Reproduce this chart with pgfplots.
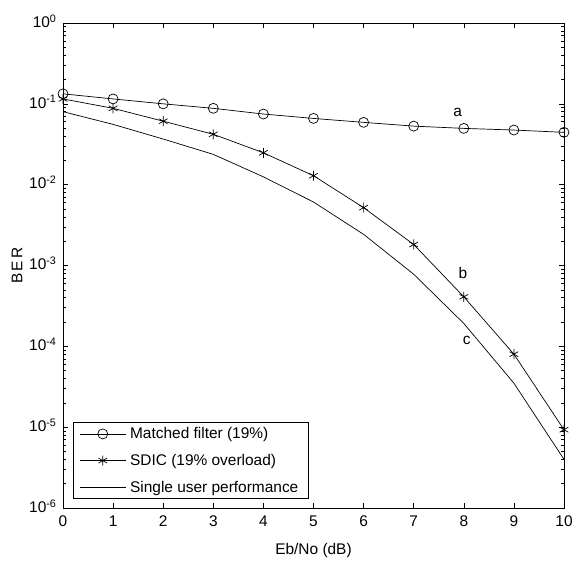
\documentclass[border=0pt]{standalone}
\usepackage{pgfplots}
\pgfplotsset{compat=1.18}
\usepackage{fontspec}
\setmainfont{Liberation Sans}
\newcommand{\tallfont}{\fontsize{15.5}{18}\selectfont}
\begin{document}
\begin{tikzpicture}
\begin{axis}[
  scale only axis,
  width=501bp, height=485bp,
  ymode=log,
  xmin=0, xmax=10, ymin=1e-6, ymax=1,
  xtick={0,1,...,10},
  ytick={1e-6,1e-5,1e-4,1e-3,1e-2,1e-1,1},
  yticklabels={10\textsuperscript{-6},10\textsuperscript{-5},10\textsuperscript{-4},10\textsuperscript{-3},10\textsuperscript{-2},10\textsuperscript{-1},10\textsuperscript{0}},
  /pgf/number format/assume math mode=true,
  tick label style={font=\tallfont},
  xticklabel style={yshift=-4bp},
  yticklabel style={xshift=-3bp, yshift=2bp},
  label style={font=\tallfont},
  xlabel={Eb/No (dB)},
  ylabel={B\kern2bp E\kern2bp R},
  xlabel style={yshift=-10bp},
  ylabel style={yshift=0bp},
  tick align=inside,
  major tick length=5bp,
  minor tick length=3bp,
  axis line style={line width=0.9bp},
  every tick/.style={black, line width=0.6bp},
  legend cell align=left,
  legend style={at={(axis description cs:0.02,0.0186)}, anchor=south west,
    font=\tallfont, draw=black, line width=0.8bp,
    row sep=10bp, inner xsep=6bp, inner ysep=3bp,
    nodes={inner xsep=4bp}},
  legend image code/.code={\draw[mark repeat=2,mark phase=2] plot coordinates {(0bp,0bp) (23bp,0bp) (46bp,0bp)};},
  clip=false,
]
\addplot[black, line width=0.7bp, mark=o, mark size=5bp, mark options={line width=0.7bp}] coordinates {
(0,0.133) (1,0.115) (2,0.100) (3,0.088) (4,0.0748) (5,0.066) (6,0.059) (7,0.053) (8,0.0497) (9,0.0474) (10,0.0444)};
\addlegendentry{Matched filter (19\%)}
\addplot[black, line width=0.7bp, mark=asterisk, mark size=5bp, mark options={line width=0.7bp}] coordinates {
(0,0.115) (1,0.088) (2,0.061) (3,0.042) (4,0.0248) (5,0.0129) (6,0.0052) (7,0.00182) (8,0.00041) (9,0.000080) (10,0.0000093)};
\addlegendentry{SDIC (19\% overload)}
\addplot[black, line width=0.7bp] coordinates {
(0,0.080) (1,0.0557) (2,0.0367) (3,0.0237) (4,0.0125) (5,0.0061) (6,0.00243) (7,0.00078) (8,0.000192) (9,0.000035) (10,0.0000040)};
\addlegendentry{Single user performance}
\node[font=\tallfont] at (axis cs:7.88,0.079) {a};
\node[font=\tallfont] at (axis cs:7.98,0.000805) {b};
\node[font=\tallfont] at (axis cs:8.06,0.000119) {c};
\end{axis}
\pgfresetboundingbox
\useasboundingbox (-63bp,-53bp) rectangle (510bp,508bp);
\end{tikzpicture}
\end{document}
